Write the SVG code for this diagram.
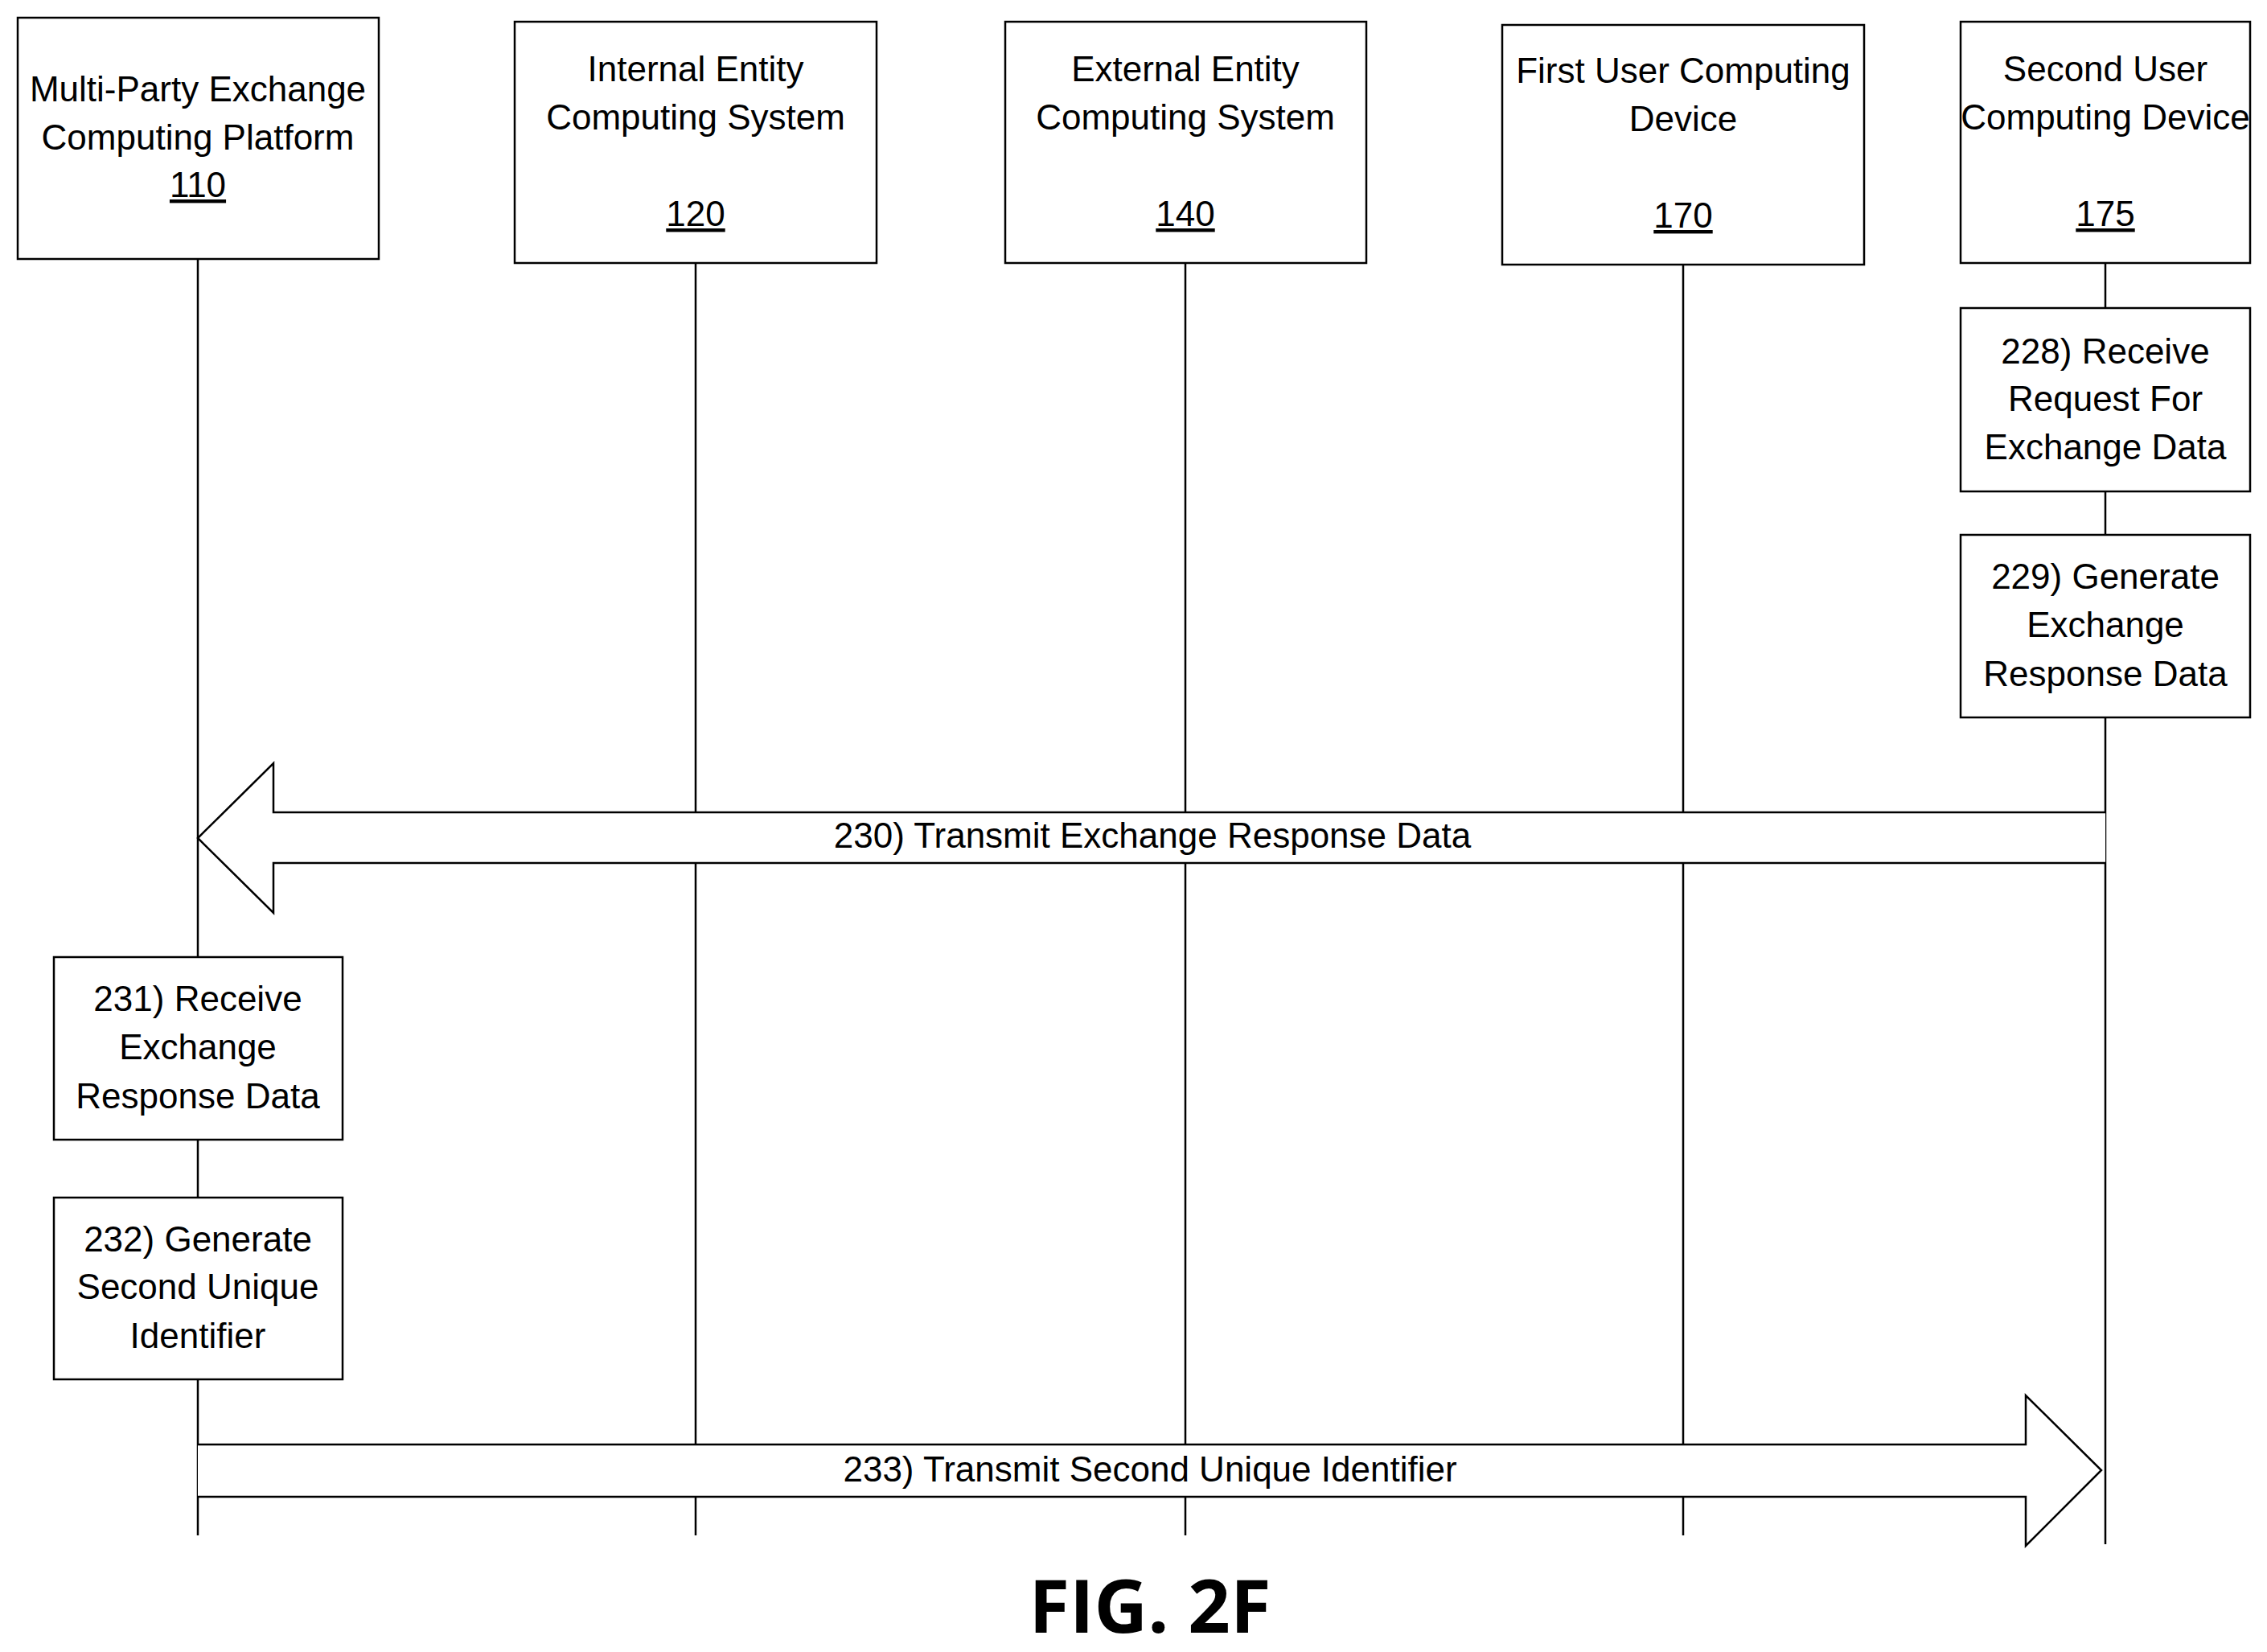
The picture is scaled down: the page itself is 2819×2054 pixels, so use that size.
<svg xmlns="http://www.w3.org/2000/svg" width="2819" height="2054" viewBox="0 0 2819 2054">
<style>
.b{fill:#fff;stroke:#000;stroke-width:2.5}
.l{stroke:#000;stroke-width:2.5;fill:none}
text{font-family:"Liberation Sans Narrow","Liberation Sans",Arial,sans-serif;font-size:44px;text-anchor:middle;fill:#000}
.u{text-decoration:underline}
</style>
<rect width="2819" height="2054" fill="#fff"/>
<g id="lifelines">
<line class="l" x1="246" y1="322" x2="246" y2="1909"/>
<line class="l" x1="865" y1="327" x2="865" y2="1909"/>
<line class="l" x1="1474" y1="327" x2="1474" y2="1909"/>
<line class="l" x1="2093" y1="329" x2="2093" y2="1909"/>
<line class="l" x1="2618" y1="327" x2="2618" y2="1920"/>
</g>
<g id="n110"><rect class="b" x="22" y="22" width="449" height="300"/><text x="246" y="126">Multi-Party Exchange</text><text x="246" y="186">Computing Platform</text><text class="u" x="246" y="245">110</text></g>
<g id="n120"><rect class="b" x="640" y="27" width="450" height="300"/><text x="865" y="101">Internal Entity</text><text x="865" y="161">Computing System</text><text class="u" x="865" y="281">120</text></g>
<g id="n140"><rect class="b" x="1250" y="27" width="449" height="300"/><text x="1474" y="101">External Entity</text><text x="1474" y="161">Computing System</text><text class="u" x="1474" y="281">140</text></g>
<g id="n170"><rect class="b" x="1868" y="31" width="450" height="298"/><text x="2093" y="103">First User Computing</text><text x="2093" y="163">Device</text><text class="u" x="2093" y="283">170</text></g>
<g id="n175"><rect class="b" x="2438" y="27" width="360" height="300"/><text x="2618" y="101">Second User</text><text x="2618" y="161">Computing Device</text><text class="u" x="2618" y="281">175</text></g>
<g id="n228"><rect class="b" x="2438" y="383" width="360" height="228"/><text x="2618" y="452">228) Receive</text><text x="2618" y="511">Request For</text><text x="2618" y="571">Exchange Data</text></g>
<g id="n229"><rect class="b" x="2438" y="665" width="360" height="227"/><text x="2618" y="732">229) Generate</text><text x="2618" y="792">Exchange</text><text x="2618" y="853">Response Data</text></g>
<g id="n231"><rect class="b" x="67" y="1190" width="359" height="227"/><text x="246" y="1257">231) Receive</text><text x="246" y="1317">Exchange</text><text x="246" y="1378">Response Data</text></g>
<g id="n232"><rect class="b" x="67" y="1489" width="359" height="226"/><text x="246" y="1556">232) Generate</text><text x="246" y="1615">Second Unique</text><text x="246" y="1676">Identifier</text></g>
<g id="connectors">
<path class="b" d="M2618 1010 H340 V949 L246 1042 L340 1135 V1073 H2618"/>
<text x="1433" y="1054">230) Transmit Exchange Response Data</text>
<path class="b" d="M246 1796 H2519 V1735 L2613 1828 L2519 1922 V1861 H246"/>
<text x="1430" y="1842">233) Transmit Second Unique Identifier</text>
</g>
<text x="1430" y="2030" style="font-family:'Open Sans','DejaVu Sans',sans-serif;font-weight:bold;font-size:92px">FIG. 2F</text>
</svg>
